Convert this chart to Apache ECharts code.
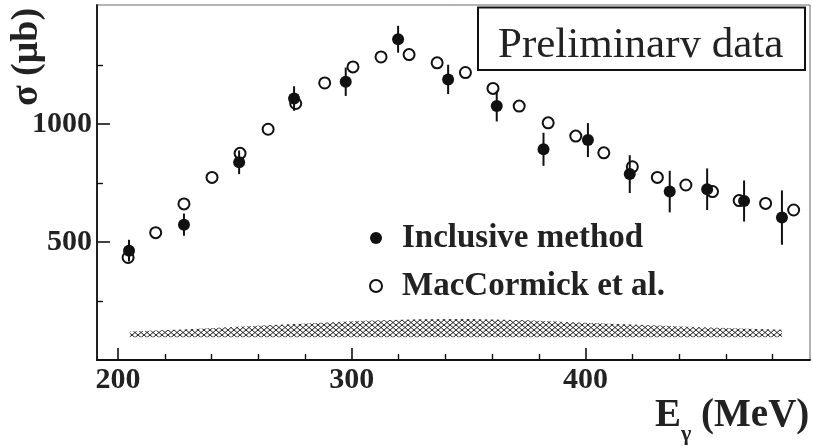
<!DOCTYPE html>
<html>
<head>
<meta charset="utf-8">
<script src="https://cdn.jsdelivr.net/npm/echarts@6/dist/echarts.min.js"></script>
<style>html,body{margin:0;padding:0;background:#fff}#c{width:813px;height:446px}</style>
</head>
<body>
<div id="c"></div>
<script>
// ---- data ----
const openE = [204.3,216.1,228.2,240.2,252.2,264.2,276,288.4,300.5,312.5,324.5,336.5,348.6,360.4,371.6,384,395.8,407.8,420,430.7,442.9,454.3,465.7,477,489];
const openSigma = [434,539,661,773,875,977,1086,1173,1241,1283,1293,1258,1217,1150,1075,1004,948,877,818,773,741,713,675,663,635];
const inclE = [204.7,228.2,251.8,275.3,297.4,319.8,341.2,362,382,401,418.9,436,452,467.8,484];
const inclSigma = [463,573,837,1107,1178,1358,1188,1075,892,931,787,713,723,673,603];
const inclErr = [46,47,50,52,60,57,62,65,70,72,80,88,88,87,115];
const bandE = [205,230,255,280,305,330,350,375,400,425,450,470,484];
const bandLow = [96,96,96,96,96,96,96,96,96,96,96,96,96];
const bandHigh = [121,130,143,155,166,173,174,168,158,148,139,132,128];
const xMajorTicks = [200,300,400];
const xMinorTicks = [220,240,260,280,320,340,360,380,420,440,460,480];
const yMajorTicks = [500,1000];
const yMinorTicks = [250,750,1250];
const seriesNames = ['Inclusive method','MacCormick et al.'];

const FONT = '"Liberation Serif","Times New Roman",serif';

// cross-hatch pattern
const pc = document.createElement('canvas');
pc.width = 6; pc.height = 5;
const g = pc.getContext('2d');
g.strokeStyle = '#222'; g.lineWidth = 1;
g.beginPath(); g.moveTo(0,0); g.lineTo(6,5); g.moveTo(0,5); g.lineTo(6,0); g.stroke();

const chart = echarts.init(document.getElementById('c'), null, {renderer:'canvas'});

const xBase = {type:'value', min:191, max:496, splitLine:{show:false}, position:'bottom'};
const yBase = {type:'value', min:0, max:1503, splitLine:{show:false}, position:'left'};
const plain = v => String(v);

chart.setOption({
  animation:false,
  backgroundColor:'#fff',
  grid:{left:97, right:3, top:5, bottom:86, show:true, borderColor:'#666', borderWidth:1},
  xAxis:[
    Object.assign({}, xBase, {
      axisLine:{show:true, lineStyle:{color:'#111', width:2}},
      axisTick:{show:true, inside:true, length:12, customValues:xMajorTicks, lineStyle:{color:'#111', width:1.6}},
      axisLabel:{show:true, customValues:xMajorTicks, formatter:plain, margin:5, color:'#222', fontSize:30, fontWeight:'bold', fontFamily:FONT}
    }),
    Object.assign({}, xBase, {
      axisLine:{show:false},
      axisTick:{show:true, inside:true, length:6, customValues:xMinorTicks, lineStyle:{color:'#111', width:1.4}},
      axisLabel:{show:false}
    })
  ],
  yAxis:[
    Object.assign({}, yBase, {
      axisLine:{show:true, lineStyle:{color:'#111', width:1.8}},
      axisTick:{show:true, inside:true, length:13, customValues:yMajorTicks, lineStyle:{color:'#111', width:1.6}},
      axisLabel:{show:true, customValues:yMajorTicks, formatter:plain, margin:5, color:'#222', fontSize:30, fontWeight:'bold', fontFamily:FONT}
    }),
    Object.assign({}, yBase, {
      axisLine:{show:false},
      axisTick:{show:true, inside:true, length:6, customValues:yMinorTicks, lineStyle:{color:'#111', width:1.4}},
      axisLabel:{show:false}
    })
  ],
  legend:{
    data:seriesNames, orient:'vertical', left:364, top:215, itemGap:12,
    itemWidth:42, itemHeight:12, selectedMode:false,
    textStyle:{fontSize:33, fontWeight:'bold', fontFamily:FONT, color:'#222', lineHeight:36}
  },
  series:[
    {
      type:'custom', name:'band', silent:true, z:1,
      data: bandE.map((e,i)=>[e, bandLow[i], bandHigh[i]]),
      encode:{x:0, y:[1,2]},
      renderItem:function(params, api){
        if (params.dataIndex !== 0) return null;
        const pts = [];
        for (let i=0;i<bandE.length;i++) pts.push(api.coord([bandE[i], bandHigh[i]]));
        for (let i=bandE.length-1;i>=0;i--) pts.push(api.coord([bandE[i], bandLow[i]]));
        return {type:'polygon', shape:{points:pts}, style:{fill:{image:pc, repeat:'repeat'}, stroke:null}};
      }
    },
    {
      type:'scatter', name:seriesNames[1], z:2,
      symbol:'circle', symbolSize:11,
      itemStyle:{color:'rgba(255,255,255,0)', borderColor:'#111', borderWidth:2, opacity:1},
      data: openE.map((e,i)=>[e, openSigma[i]])
    },
    {
      type:'custom', name:'errors', silent:true, z:3,
      data: inclE.map((e,i)=>[e, inclSigma[i], inclErr[i]]),
      encode:{x:0, y:1},
      renderItem:function(params, api){
        const x = api.value(0), y = api.value(1), e = api.value(2);
        const p1 = api.coord([x, y-e]), p2 = api.coord([x, y+e]);
        return {type:'line', shape:{x1:p1[0], y1:p1[1], x2:p2[0], y2:p2[1]}, style:{stroke:'#111', lineWidth:2}};
      }
    },
    {
      type:'scatter', name:seriesNames[0], z:4,
      symbol:'circle', symbolSize:12,
      itemStyle:{color:'#111', opacity:1},
      data: inclE.map((e,i)=>[e, inclSigma[i]])
    }
  ],
  graphic:[
    {type:'rect', z:10, shape:{x:478, y:7.5, width:327, height:62.5}, style:{fill:'#fff', stroke:null}},
    {type:'text', z:11, x:498, y:46, style:{text:'Preliminary data', fontSize:43, fontFamily:FONT, fill:'#222', align:'left', verticalAlign:'middle'}},
    {type:'rect', z:12, shape:{x:480, y:57.5, width:323, height:11.5}, style:{fill:'#fff', stroke:null}},
    {type:'rect', z:13, shape:{x:478, y:7.5, width:327, height:62.5}, style:{fill:null, stroke:'#111', lineWidth:2}},
    {type:'text', z:11, x:27, y:57, rotation:Math.PI/2, style:{text:'σ (μb)', fontSize:38, fontWeight:'bold', fontFamily:FONT, fill:'#222', align:'center', verticalAlign:'middle'}},
    {type:'text', z:11, x:655, y:396, style:{
      text:'{a|E}{b|γ}{a| (MeV)}', align:'left', verticalAlign:'top', fill:'#222',
      rich:{
        a:{fontSize:39, fontWeight:'bold', fontFamily:FONT, lineHeight:40, fill:'#222'},
        b:{fontSize:22, fontWeight:'bold', fontFamily:FONT, lineHeight:22, padding:[36,0,0,0], fill:'#222'}
      }
    }}
  ]
});
</script>
</body>
</html>
